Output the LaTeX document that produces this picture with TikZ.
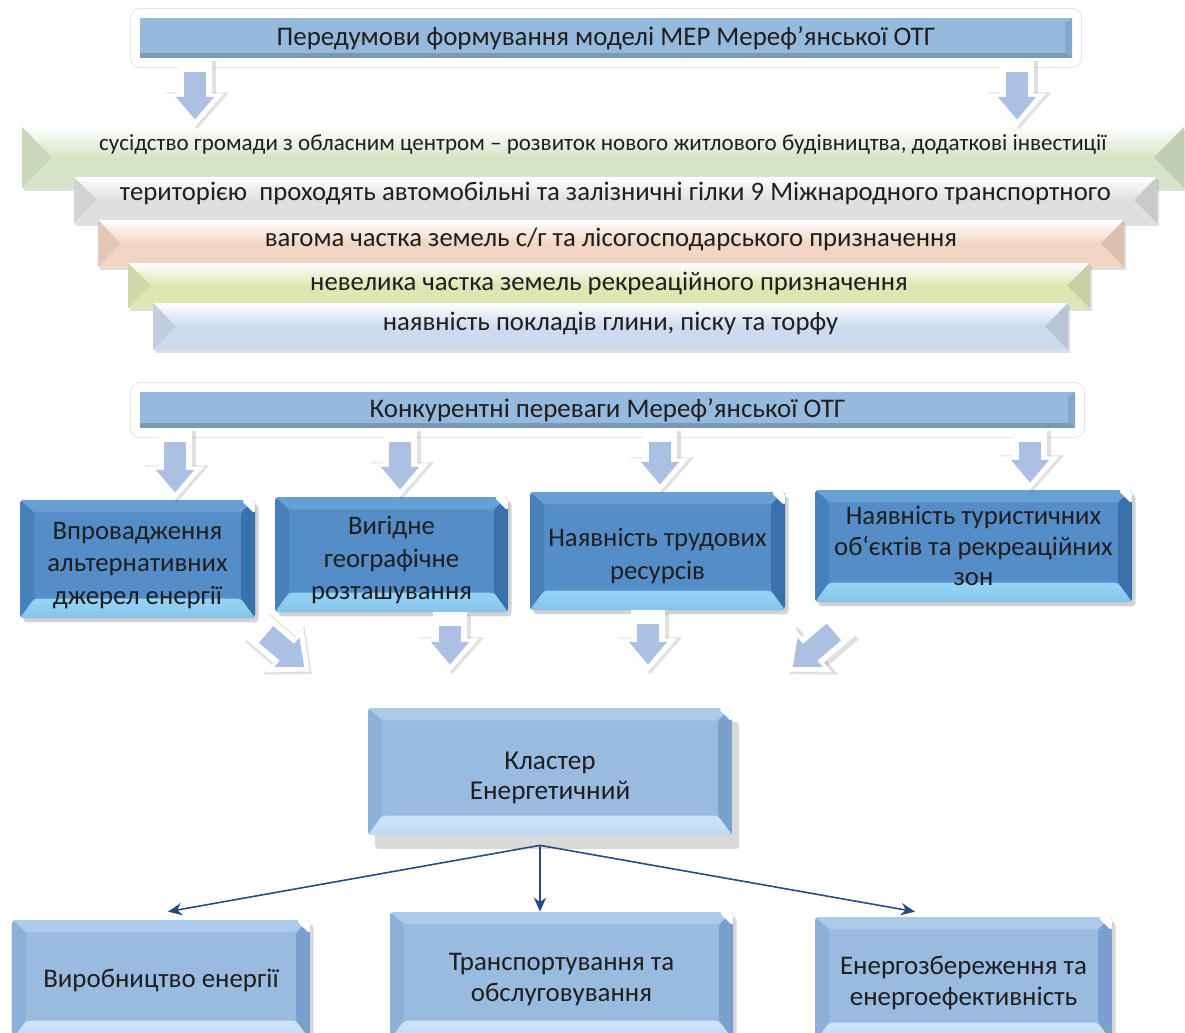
\documentclass[tikz,border=0pt]{standalone}
\usepackage{fontspec}
\setmainfont{Carlito}
\usepackage{xcolor}
\usepackage{tikz}
\usetikzlibrary{arrows.meta}
\usetikzlibrary{shadows}
\usetikzlibrary{calc}

\definecolor{titleblue}{RGB}{150,186,222}
\definecolor{midblue}{RGB}{84,141,199}
\definecolor{midtop}{RGB}{104,160,214}
\definecolor{midleft}{RGB}{72,128,188}
\definecolor{midright}{RGB}{58,112,172}
\definecolor{midbottom}{RGB}{150,212,246}
\definecolor{lightblue}{RGB}{152,187,223}
\definecolor{lighttop}{RGB}{172,202,233}
\definecolor{lightleft}{RGB}{140,177,216}
\definecolor{lightright}{RGB}{122,161,206}
\definecolor{lightbottom}{RGB}{206,228,248}
\definecolor{arrowblue}{RGB}{172,192,228}
\definecolor{linkblue}{RGB}{36,76,128}
\definecolor{textdark}{RGB}{30,30,30}
\definecolor{pgreen}{RGB}{214,229,199}
\definecolor{pgray}{RGB}{224,224,224}
\definecolor{ppeach}{RGB}{243,213,195}
\definecolor{pyellow}{RGB}{221,231,180}
\definecolor{pblue}{RGB}{206,218,238}

\newcommand{\topgap}[1]{\rule{0pt}{#1}}
\newcommand{\ppcorners}{%
    \coordinate (nw) at (path picture bounding box.north west);
    \coordinate (ne) at (path picture bounding box.north east);
    \coordinate (sw) at (path picture bounding box.south west);
    \coordinate (se) at (path picture bounding box.south east);
    \coordinate (w) at (path picture bounding box.west);
    \coordinate (e) at (path picture bounding box.east);
}
\newcommand{\barfacets}[2]{%
    \ppcorners
    \shade[top color=white, bottom color=#1] (nw) -- (ne) -- ([xshift=-#2]e) -- ([xshift=#2]w) -- cycle;
    \fill[#1!94!black] (nw) -- ([xshift=#2]w) -- (sw) -- cycle;
    \fill[#1!90!black] (ne) -- ([xshift=-#2]e) -- (se) -- cycle;
}
\newcommand{\boxfacets}[4]{%
    \ppcorners
    \fill[#1] (nw) -- (ne) -- ([shift={(-8pt,-7pt)}]ne) -- ([shift={(8pt,-7pt)}]nw) -- cycle;
    \fill[#2] (nw) -- ([shift={(8pt,-7pt)}]nw) -- ([shift={(8pt,11pt)}]sw) -- (sw) -- cycle;
    \fill[#3] (ne) -- (se) -- ([shift={(-8pt,11pt)}]se) -- ([shift={(-8pt,-7pt)}]ne) -- cycle;
    \shade[top color=#4, bottom color=#4!80!#2] (sw) -- ([shift={(8pt,11pt)}]sw) -- ([shift={(-8pt,11pt)}]se) -- (se) -- cycle;
    \fill[white] (ne) -- ([xshift=-8pt]ne) -- ([yshift=-8pt]ne) -- cycle;
}

\tikzset{
    titlebar/.style = {rectangle, fill=titleblue, text=textdark, inner sep=0pt,
        font=\fontsize{15.3}{18}\selectfont,
        preaction={draw=black!10, line width=11.5pt, line join=round},
        preaction={draw=white, line width=10pt, line join=round},
        path picture={\ppcorners
            \fill[titleblue!82!black] (sw) rectangle ([yshift=3pt]se);
            \fill[titleblue!90!black] (ne) -- ([shift={(-4pt,-3pt)}]ne) -- ([shift={(-4pt,3pt)}]se) -- (se) -- cycle;}},
    pbar/.style 2 args = {rectangle, inner sep=0pt, fill=#1, text=textdark,
        text height=10pt, font=\fontsize{15.2}{18}\selectfont,
        drop shadow={shadow xshift=1pt, shadow yshift=-1.5pt, opacity=0.25},
        path picture={\barfacets{#1}{#2}}},
    fbox/.style = {rectangle, rounded corners=2pt, fill=midblue, text=textdark, align=center,
        font=\fontsize{15.2}{18.5}\selectfont,
        drop shadow={shadow xshift=2pt, shadow yshift=-2.5pt, opacity=0.35},
        path picture={\boxfacets{midtop}{midleft}{midright}{midbottom}}},
    lbox/.style = {rectangle, rounded corners=2pt, fill=lightblue, text=textdark, align=center,
        font=\fontsize{15.3}{17.6}\selectfont,
        drop shadow={#1},
        path picture={\boxfacets{lighttop}{lightleft}{lightright}{lightbottom}}},
    lbox/.default = {shadow xshift=2pt, shadow yshift=-2.5pt, opacity=0.3},
    blockarrow/.style = {draw=arrowblue, line width=12.5pt, shorten <=8pt, shorten >=4pt,
        -{Triangle[width=21pt,length=13pt]},
        preaction={draw=black, opacity=0.12, line width=21pt, shorten <=0pt, shorten >=0pt,
            -{Triangle[width=35pt,length=21pt]}, transform canvas={shift={(1.2pt,-1.5pt)}}},
        preaction={draw=white, line width=19pt, shorten <=0pt, shorten >=0pt,
            -{Triangle[width=32pt,length=19pt]}}},
    link/.style = {draw=linkblue, line width=0.9pt, -{Stealth[length=8pt,width=7pt]}}
}

\begin{document}
\begin{tikzpicture}
    \useasboundingbox (0,0) rectangle (23.7,-20.64);
    \clip (0,0) rectangle (23.7,-20.64);

    % prerequisites
    \node[titlebar, minimum width=18.64cm, minimum height=0.8cm] (pre) at (12.12,-0.76)
        {Передумови формування моделі МЕР Мереф’янської ОТГ};

    \node[pbar={pgreen}{17pt}, minimum width=23.24cm, minimum height=1.22cm, text depth=18.5pt,
        font=\fontsize{13.1}{16}\selectfont] (p1) at (12.06,-3.15)
        {сусідство громади з обласним центром – розвиток нового житлового будівництва, додаткові інвестиції};
    \node[pbar={pgray}{13pt}, minimum width=21.66cm, minimum height=0.92cm, text depth=9pt] (p2) at (12.31,-4.0)
        {територією\ \ проходять автомобільні та залізничні гілки 9 Міжнародного транспортного};
    \node[pbar={ppeach}{13pt}, minimum width=20.52cm, minimum height=0.94cm, text depth=7pt] (p3) at (12.22,-4.87)
        {вагома частка земель с/г та лісогосподарського призначення};
    \node[pbar={pyellow}{13pt}, minimum width=19.24cm, minimum height=0.9cm, text depth=4.5pt] (p4) at (12.18,-5.71)
        {невелика частка земель рекреаційного призначення};
    \node[pbar={pblue}{13pt}, minimum width=18.3cm, minimum height=0.94cm, text depth=6pt] (p5) at (12.21,-6.53)
        {наявність покладів глини, піску та торфу};

    \draw[blockarrow] (3.9,0 |- pre.south) -- (3.9,0 |- p1.north);
    \draw[blockarrow] (20.34,0 |- pre.south) -- (20.34,0 |- p1.north);

    % competitive advantages
    \node[titlebar, minimum width=18.7cm, minimum height=0.72cm] (adv) at (12.15,-8.2)
        {Конкурентні переваги Мереф’янської ОТГ};

    \node[fbox, minimum width=4.7cm, minimum height=2.36cm] (f1) at (2.75,-11.18)
        {\topgap{17pt}Впровадження\\альтернативних\\джерел енергії};
    \node[fbox, minimum width=4.66cm, minimum height=2.3cm] (f2) at (7.83,-11.09)
        {\topgap{17pt}Вигідне\\географічне\\розташування};
    \node[fbox, minimum width=5.1cm, minimum height=2.36cm] (f3) at (13.15,-11.02)
        {\topgap{16pt}Наявність трудових\\ресурсів};
    \node[fbox, minimum width=6.34cm, minimum height=2.24cm, font=\fontsize{15.2}{17.3}\selectfont] (f4) at (19.47,-10.92)
        {Наявність туристичних\\об‘єктів та рекреаційних\\зон};

    \draw[blockarrow] (3.5,0 |- adv.south) -- (3.5,0 |- f1.north);
    \draw[blockarrow] (8.0,0 |- adv.south) -- (8.0,0 |- f2.north);
    \draw[blockarrow] (13.2,0 |- adv.south) -- (13.2,0 |- f3.north);
    \draw[blockarrow] (20.6,0 |- adv.south) -- (20.6,0 |- f4.north);

    % cluster
    \node[lbox={shadow xshift=4pt, shadow yshift=-8pt, opacity=0.3}, minimum width=7.28cm, minimum height=2.54cm,
        font=\fontsize{15.5}{17}\selectfont] (cl) at (11.0,-15.43) {\topgap{17pt}Кластер\\Енергетичний};
    \coordinate (clin) at ([yshift=0.72cm]cl.north);

    \draw[blockarrow] ([shift={(0,-0.14)}]f1.south east) -- ([xshift=-1.16cm]clin -| cl.west);
    \draw[blockarrow] (9.0,0 |- f2.south) -- (9.0,0 |- clin);
    \draw[blockarrow] (12.96,0 |- f3.south) -- (12.96,0 |- clin);
    \draw[blockarrow] ([shift={(0.6,-0.41)}]f4.south west) -- ([xshift=1.1cm]clin -| cl.east);

    % directions
    \node[lbox, minimum width=5.96cm, minimum height=2.4cm] (d1) at (3.22,-19.6) {Виробництво енергії};
    \node[lbox, minimum width=6.86cm, minimum height=2.56cm] (d2) at (11.23,-19.52) {\topgap{14pt}Транспортування та\\обслуговування};
    \node[lbox, minimum width=5.94cm, minimum height=2.5cm] (d3) at (19.27,-19.59) {\topgap{14pt}Енергозбереження та\\енергоефективність};

    \coordinate (fork) at ([shift={(-0.2,-0.2)}]cl.south);
    \draw[link] (fork) -- ([shift={(0.14,0.16)}]d1.north);
    \draw[link] (fork) -- (fork |- d2.north);
    \draw[link] (fork) -- ([shift={(-0.97,0.1)}]d3.north);
\end{tikzpicture}
\end{document}
